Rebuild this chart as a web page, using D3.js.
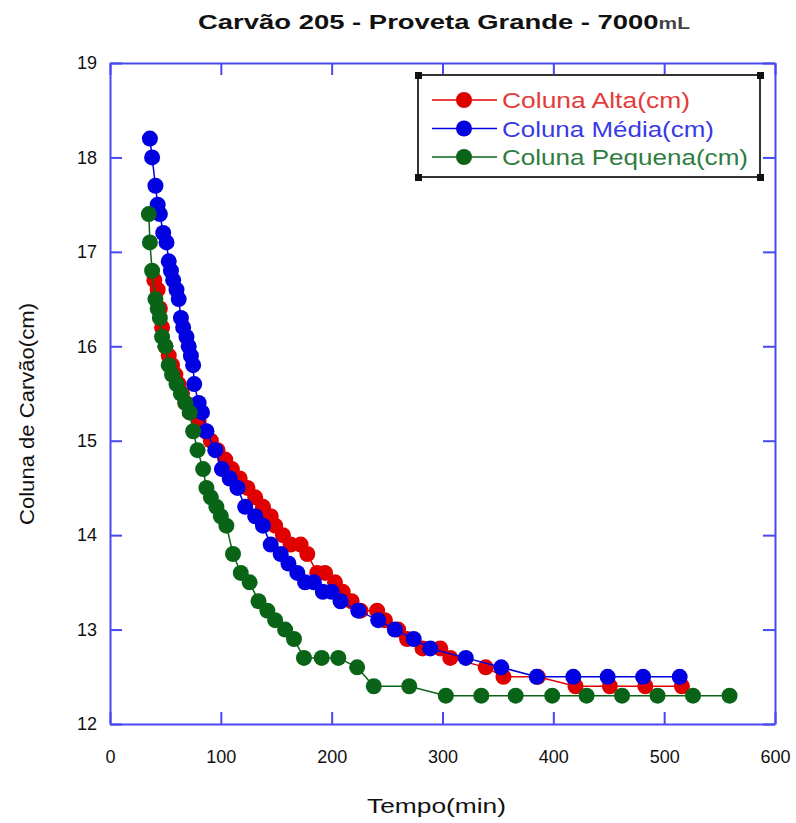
<!DOCTYPE html>
<html lang="en">
<head>
<meta charset="utf-8">
<title>Carvão 205</title>
<script src="https://cdn.jsdelivr.net/npm/d3@7"></script>
<style>
  body { margin: 0; background: #fff; }
  text { font-family: "Liberation Sans", Arial, sans-serif; }
</style>
</head>
<body>
<script>
// data: [tempo(min), coluna(cm)]
var alta = [[40,16.7],[43,16.6],[45,16.4],[47,16.2],[50,16.0],[53,15.9],[56,15.8],[59,15.7],[62,15.6],[65,15.5],[68,15.4],[72,15.3],[80,15.2],[86,15.1],[91,15.0],[97,14.9],[104,14.8],[110,14.7],[117,14.6],[124,14.5],[131,14.4],[138,14.3],[145,14.2],[149,14.1],[156,14.0],[163,13.9],[172,13.9],[178,13.8],[187,13.6],[194,13.6],[203,13.5],[210,13.4],[218,13.3],[226,13.2],[241,13.2],[248,13.1],[260,13.0],[268,12.9],[282,12.8],[298,12.8],[307,12.7],[339,12.6],[355,12.5],[386,12.5],[420,12.4],[451,12.4],[483,12.4],[516,12.4]]
var media = [[36,18.2],[38,18.0],[41,17.7],[43,17.5],[45,17.4],[48,17.2],[51,17.1],[53,16.9],[55,16.8],[57,16.7],[60,16.6],[62,16.5],[64,16.3],[66,16.2],[69,16.1],[71,16.0],[73,15.9],[75,15.8],[76,15.6],[80,15.4],[83,15.3],[87,15.1],[95,14.9],[101,14.7],[108,14.6],[115,14.5],[122,14.3],[131,14.2],[138,14.1],[145,13.9],[154,13.8],[161,13.7],[169,13.6],[176,13.5],[184,13.5],[192,13.4],[200,13.4],[208,13.3],[224,13.2],[242,13.1],[257,13.0],[274,12.9],[289,12.8],[321,12.7],[353,12.6],[385,12.5],[418,12.5],[449,12.5],[481,12.5],[514,12.5]]
var pequena = [[35,17.4],[36,17.1],[38,16.8],[41,16.5],[43,16.4],[45,16.3],[47,16.1],[50,16.0],[53,15.8],[56,15.7],[60,15.6],[64,15.5],[68,15.4],[72,15.3],[75,15.1],[79,14.9],[84,14.7],[87,14.5],[91,14.4],[96,14.3],[100,14.2],[105,14.1],[111,13.8],[118,13.6],[126,13.5],[134,13.3],[142,13.2],[149,13.1],[158,13.0],[166,12.9],[175,12.7],[191,12.7],[206,12.7],[223,12.6],[238,12.4],[270,12.4],[303,12.3],[335,12.3],[366,12.3],[399,12.3],[430,12.3],[462,12.3],[494,12.3],[526,12.3],[559,12.3]]

var seriesNames = ["Coluna Alta(cm)", "Coluna Média(cm)", "Coluna Pequena(cm)"]
var seriesColors = ["#e00000", "#0000e0", "#0a6418"]
var legendColors = ["#e53a3a", "#3a3ae5", "#2f7d3f"]
var legendWidths = [188, 212, 246]
var xTicks = [0, 100, 200, 300, 400, 500, 600]
var yTicks = [12, 13, 14, 15, 16, 17, 18, 19]

var width = 796, height = 823
var margin = {left: 110, right: 21, top: 63, bottom: 99}
var axisColor = "#4848f0"

var svg = d3.select("body").append("svg").attr("width", width).attr("height", height)

var x = d3.scaleLinear().domain([0, 600]).range([margin.left, width - margin.right])
var y = d3.scaleLinear().domain([12, 19]).range([height - margin.bottom, margin.top])

// frame with inward ticks on all four sides
var tickLen = 12
var axes = [
  {a: d3.axisBottom(x), t: "translate(0," + y(12) + ")"},
  {a: d3.axisTop(x), t: "translate(0," + y(19) + ")"},
  {a: d3.axisLeft(y), t: "translate(" + x(0) + ",0)"},
  {a: d3.axisRight(y), t: "translate(" + x(600) + ",0)"}
]
axes.forEach(function(d, i) {
  var isX = i < 2
  d.a.tickValues(isX ? xTicks : yTicks).tickFormat(d3.format("d"))
    .tickSizeInner(-tickLen).tickSizeOuter(0).tickPadding(i == 0 ? 26 : 13)
  var g = svg.append("g").attr("transform", d.t).call(d.a)
  g.select(".domain").attr("stroke", axisColor).attr("stroke-width", 2)
  g.selectAll(".tick line").attr("stroke", axisColor).attr("stroke-width", 2)
  g.selectAll(".tick text").attr("fill", "#111").style("font-size", "18px")
  if (i == 1 || i == 3) g.selectAll(".tick text").remove()
})

var line = d3.line().x(function(d) { return x(d[0]) }).y(function(d) { return y(d[1]) })
var allSeries = [alta, media, pequena]

allSeries.forEach(function(data, i) {
  var g = svg.append("g")
  g.append("path").datum(data).attr("d", line).attr("fill", "none")
    .attr("stroke", seriesColors[i]).attr("stroke-width", 1.5)
  g.selectAll("circle").data(data).enter().append("circle")
    .attr("cx", function(d) { return x(d[0]) })
    .attr("cy", function(d) { return y(d[1]) })
    .attr("r", 8)
    .attr("fill", seriesColors[i])
})

// legend
var lx = 418, ly = 75, lw = 342, lh = 102
var leg = svg.append("g")
leg.append("rect").attr("x", lx).attr("y", ly).attr("width", lw).attr("height", lh)
  .attr("fill", "#fff").attr("stroke", "#333").attr("stroke-width", 2)
;[[lx, ly], [lx + lw, ly], [lx, ly + lh], [lx + lw, ly + lh]].forEach(function(c) {
  leg.append("rect").attr("x", c[0] - 3).attr("y", c[1] - 3).attr("width", 7).attr("height", 7).attr("fill", "#111")
})
seriesNames.forEach(function(name, i) {
  var yy = 100 + i * 28.5
  leg.append("line").attr("x1", 432).attr("x2", 497).attr("y1", yy).attr("y2", yy)
    .attr("stroke", seriesColors[i]).attr("stroke-width", 1.5)
  leg.append("circle").attr("cx", 464).attr("cy", yy).attr("r", 8).attr("fill", seriesColors[i])
  leg.append("text").attr("x", 502).attr("y", yy + 8).text(name)
    .attr("textLength", legendWidths[i]).attr("lengthAdjust", "spacingAndGlyphs")
    .attr("fill", legendColors[i]).style("font-size", "22px")
})

// titles
var title = svg.append("text").attr("x", 198).attr("y", 29)
  .attr("textLength", 492).attr("lengthAdjust", "spacingAndGlyphs")
  .style("font-weight", "bold").style("font-size", "21px").attr("fill", "#111")
title.append("tspan").text("Carvão 205 - Proveta Grande - 7000")
title.append("tspan").text("mL").style("font-size", "16px").attr("fill", "#444")

svg.append("text").attr("x", 367).attr("y", 813)
  .attr("textLength", 139).attr("lengthAdjust", "spacingAndGlyphs")
  .style("font-size", "20px").attr("fill", "#111").text("Tempo(min)")

svg.append("text").attr("transform", "translate(34," + 525 + ") rotate(-90)")
  .attr("textLength", 222).attr("lengthAdjust", "spacingAndGlyphs")
  .style("font-size", "20px").attr("fill", "#111")
  .text("Coluna de Carvão(cm)")
</script>
</body>
</html>
